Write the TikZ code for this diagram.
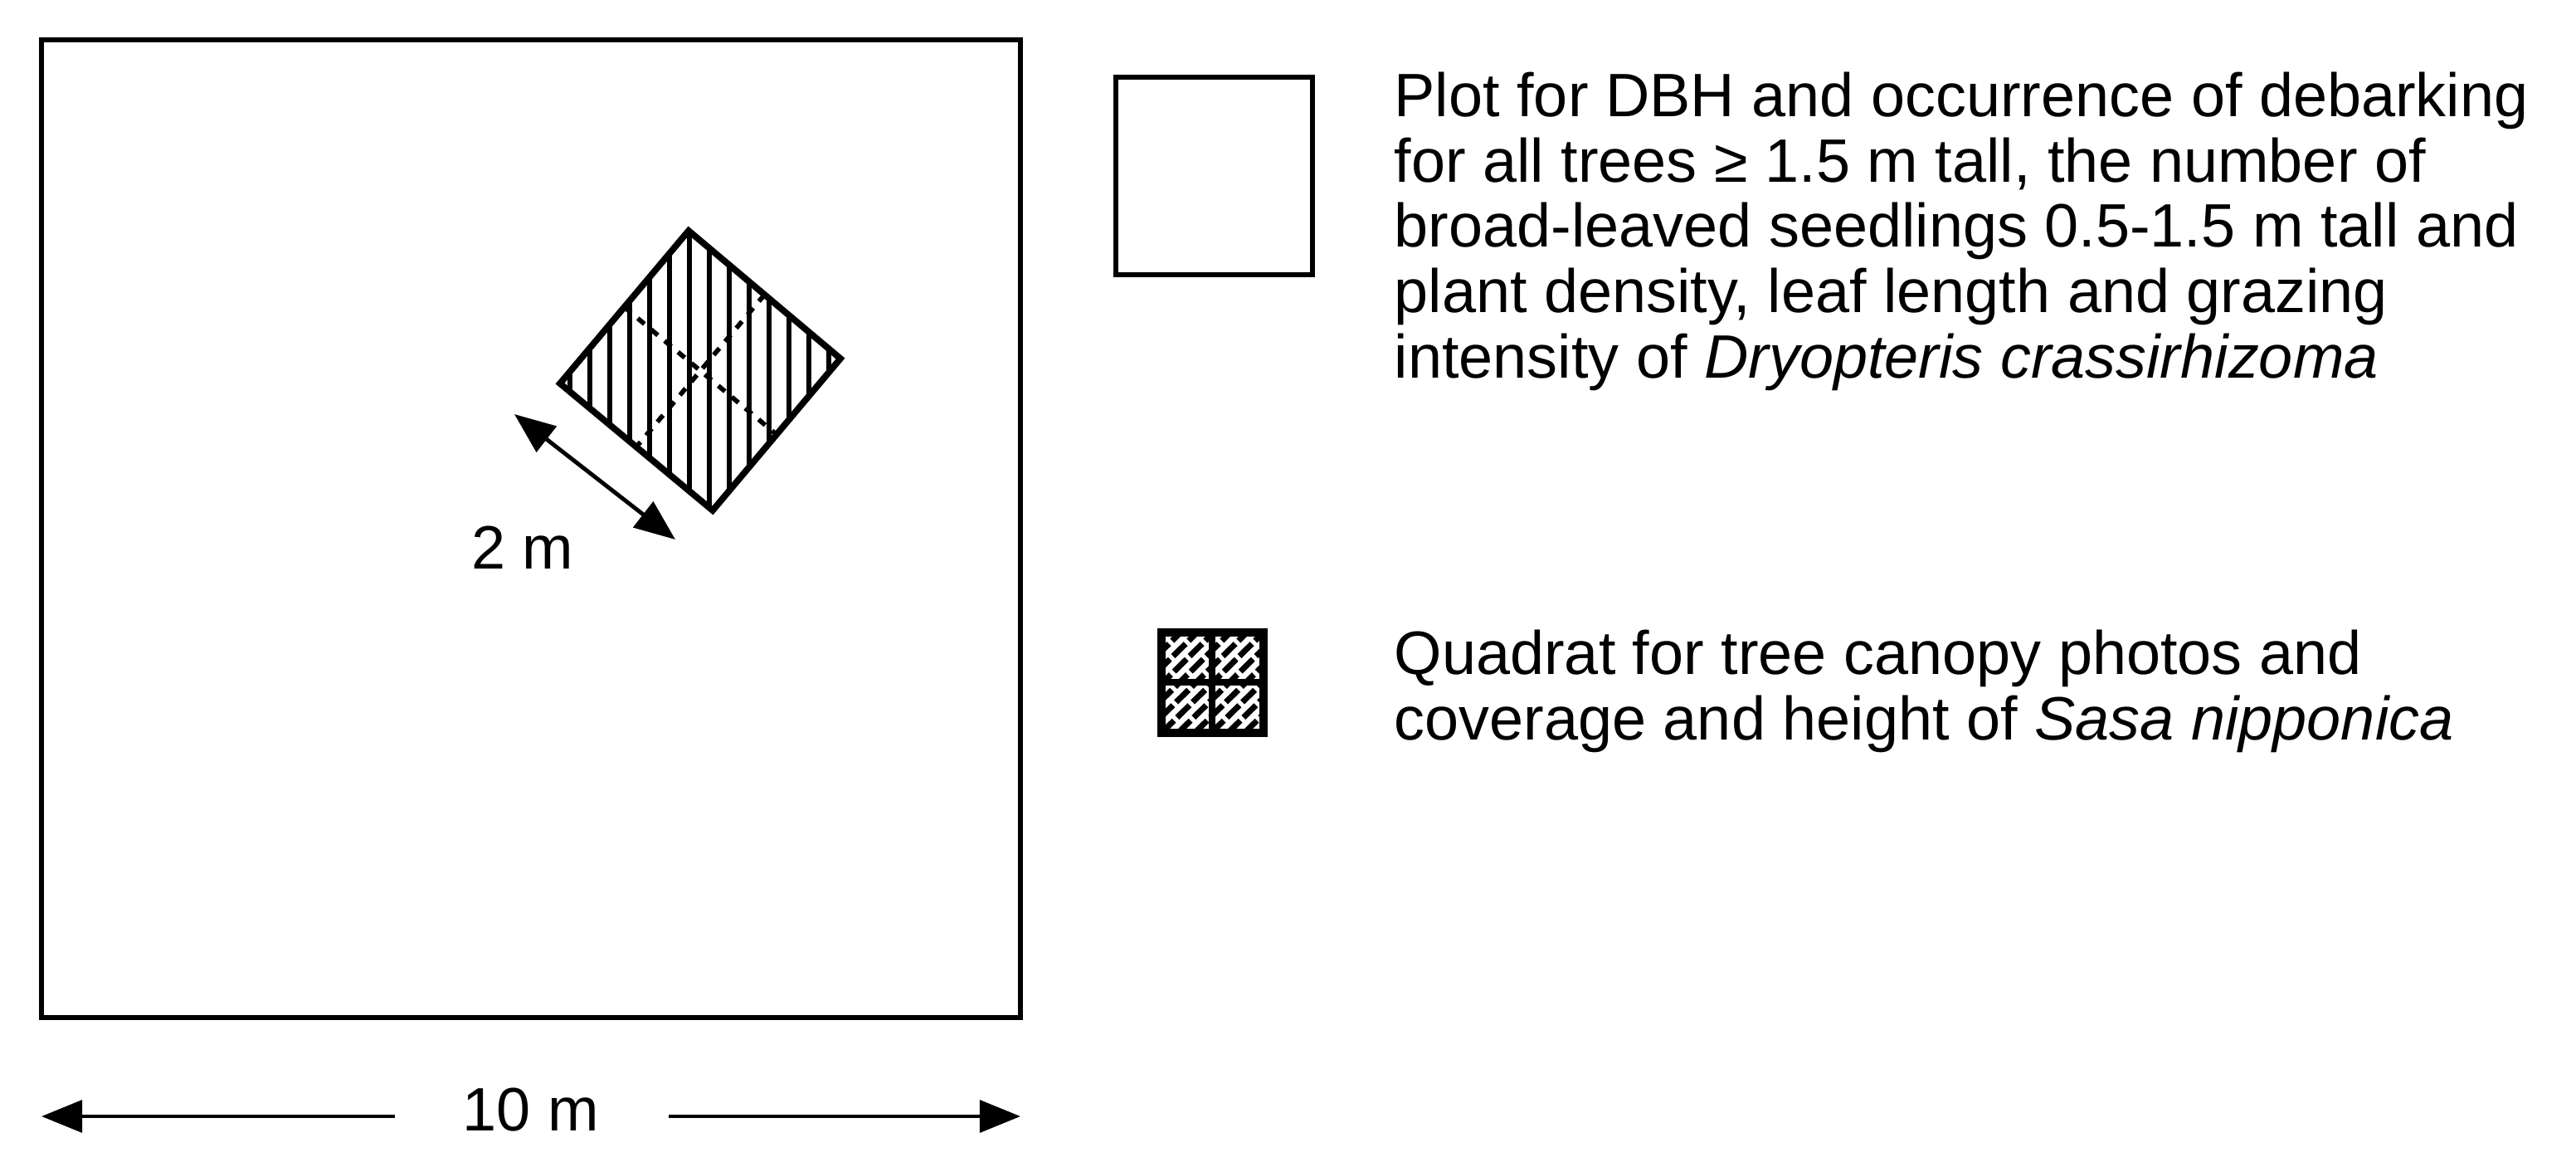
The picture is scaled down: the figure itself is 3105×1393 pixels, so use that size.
\documentclass[tikz,border=0pt]{standalone}
\usepackage{fontspec}
\setmainfont{Liberation Sans}
\usetikzlibrary{arrows.meta,calc}
\begin{document}
\begin{tikzpicture}[x=0.01cm,y=-0.01cm,
  box/.style={draw,line width=1.9pt},
  arr/.style={line width=1.4pt,-{Triangle[length=14pt,width=11pt]}},
  lbl/.style={font=\fontsize{21}{22.4}\selectfont,inner sep=0pt},
  legtxt/.style={font=\fontsize{21}{22.4}\selectfont,align=left,anchor=north west,inner sep=0pt}]
\useasboundingbox (0,0) rectangle (3105,1393);
% main plot
\draw[box] (50,48) rectangle (1230,1226);
% diamond quadrat
\coordinate (T) at (830,278); \coordinate (R) at (1013,432);
\coordinate (B) at (859,615); \coordinate (L) at (675,462);
\begin{scope}
\clip (T)--(R)--(B)--(L)--cycle;
\foreach \x in {687,711,...,1010} \draw[line width=1.6pt] (\x,270)--(\x,620);
\end{scope}
\draw[line width=1.6pt,dashed] ($(T)!0.5!(R)$) -- ($(L)!0.5!(B)$);
\draw[line width=1.6pt,dashed] ($(T)!0.5!(L)$) -- ($(R)!0.5!(B)$);
\draw[line width=2.2pt,line join=miter] (T)--(R)--(B)--(L)--cycle;
% 2 m arrow
\coordinate (a1) at (620,499); \coordinate (a2) at (814,650);
\draw[arr,{Triangle[length=14pt,width=11pt]}-{Triangle[length=14pt,width=11pt]}] (a1)--(a2);
\node[lbl] (twom) at (630,660) {2 m};
% 10 m
\node[lbl] (tenm) at (640,1337) {10 m};
\coordinate (l1) at (50,1345); \coordinate (l2) at (476,1345);
\coordinate (r1) at (806,1345); \coordinate (r2) at (1230,1345);
\draw[arr] (l2)--(l1);
\draw[arr] (r1)--(r2);
% legend plot
\draw[box] (1345,93) rectangle (1582,331);
\node[legtxt] (t1) at (1680,86) {Plot for DBH and occurrence of debarking\\
for all trees ≥ 1.5 m tall, the number of\\
broad-leaved seedlings 0.5-1.5 m tall and\\
plant density, leaf length and grazing\\
intensity of \textit{Dryopteris crassirhizoma}};
% legend quadrat
\begin{scope}
\clip (1400,762) rectangle (1523,883);
\foreach \d in {-140,-120,...,140} \draw[line width=2pt,dash pattern=on 6pt off 1.5pt] (1400+\d,883)--(1523+\d,762);
\end{scope}
\draw[line width=2.2pt] (1461,762)--(1461,883) (1400,822)--(1523,822);
\draw[line width=3pt] (1400,762) rectangle (1523,883);
\node[legtxt] (t2) at (1680,758) {Quadrat for tree canopy photos and\\
coverage and height of \textit{Sasa nipponica}};
\end{tikzpicture}
\end{document}
